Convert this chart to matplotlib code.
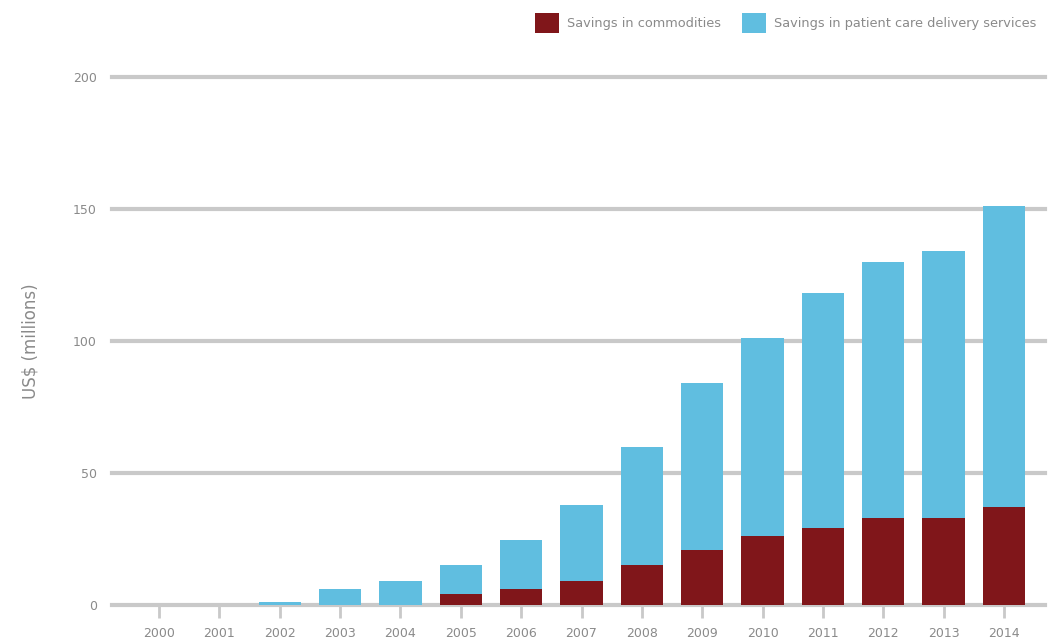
import matplotlib.pyplot as plt
import numpy as np

# yearly savings, US$ millions
years = [str(y) for y in range(2000, 2015)]
commodities = [0, 0, 0, 0, 0, 4, 6, 9, 15, 21, 26, 29, 33, 33, 37]
patient_care = [0, 0, 1, 6, 9, 11, 18.5, 29, 45, 63, 75, 89, 97, 101, 114]
y_ticks = [0, 50, 100, 150, 200]

red = '#80161a'
blue = '#60bee0'
grid_col = '#c9c9c9'
text_col = '#8a8a8a'

plt.rcParams['font.family'] = ['DejaVu Sans']

fig = plt.figure(figsize=(10.54, 6.43), dpi=100)
ax = fig.add_axes([112 / 1054, 38 / 643, 933 / 1054, 528 / 643])

x = np.arange(len(years))
ax.bar(x, commodities, width=0.7, color=red, zorder=3,
       label='Savings in commodities')
ax.bar(x, patient_care, width=0.7, bottom=commodities, color=blue, zorder=3,
       label='Savings in patient care delivery services')

ax.set_ylim(0, 200)
ax.set_xlim(-0.78, len(years) - 1 + 0.68)
ax.set_yticks(y_ticks)
ax.set_yticklabels([str(v) for v in y_ticks])
ax.set_xticks(x)
ax.set_xticklabels(years)

for v in y_ticks:
    ax.axhline(v, color=grid_col, lw=3, zorder=1, clip_on=False)

for s in ax.spines.values():
    s.set_visible(False)

ax.tick_params(axis='y', length=0, pad=11, labelsize=9, labelcolor=text_col)
ax.tick_params(axis='x', length=9, width=2, color=grid_col, pad=7,
               labelsize=9, labelcolor=text_col)

ax.set_ylabel('US$ (millions)', color=text_col, fontsize=12, labelpad=24)

fig.legend(loc='upper right', bbox_to_anchor=(1048 / 1054, 0.998), ncol=2,
           frameon=False, fontsize=9.3, handlelength=1.9, handleheight=2.0,
           handletextpad=0.6, columnspacing=1.6, labelcolor=text_col)

fig.savefig('out.png', dpi=100)
